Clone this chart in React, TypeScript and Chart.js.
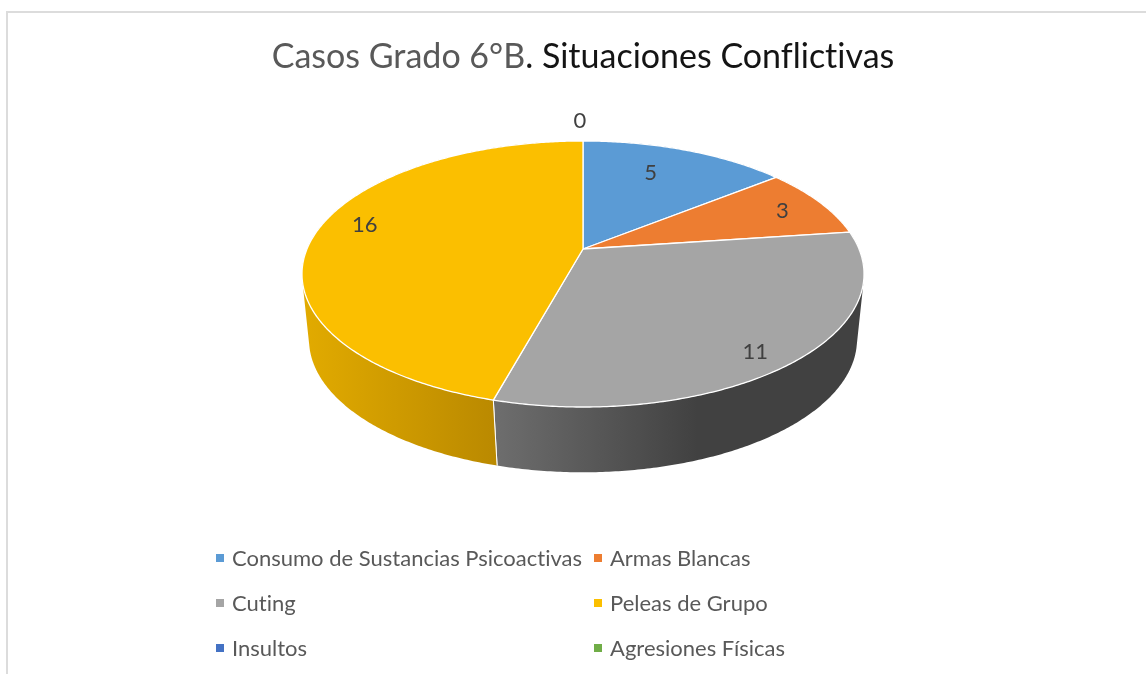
import React, { useEffect, useRef } from "react";
import { Chart, registerables } from "chart.js";

Chart.register(...registerables);

const categories = [
  "Consumo de Sustancias Psicoactivas",
  "Armas Blancas",
  "Cuting",
  "Peleas de Grupo",
  "Insultos",
  "Agresiones Físicas",
];
const casos: (number | null)[] = [5, 3, 11, 16, 0, null];
const topColors = ["#5B9BD5", "#ED7D31", "#A5A5A5", "#FBBF00", "#4472C4", "#70AD47"];
const titleParts = ["Casos Grado 6°B", ". Situaciones Conflictivas"];
const titleColors = ["#595959", "#141414"];

const FONT = "Lato";
const CX = 583;
const TOP = { cy: 249, b: 81.5, k: -0.188, a: 276 };
const BOT = { cy: 317, b: 75, k: -0.17, a: 270 };
const sideStops: [number, string][][] = [
  [[0, "#3f6e98"], [1, "#3f6e98"]],
  [[0, "#a85822"], [1, "#a85822"]],
  [[0, "#6e6e6e"], [0.55, "#414141"], [1, "#414141"]],
  [[0, "#e2ab00"], [1, "#a87a00"]],
  [[0, "#2f5189"], [1, "#2f5189"]],
  [[0, "#4f7a32"], [1, "#4f7a32"]],
];
const labelRadius = [0.75, 0.75, 0.75, 0.75, 1];
const labelNudge = [[-12, 1], [19, -2], [20, 22], [-17, -11], [-3, -20]];

type Disc = typeof TOP;
type Pt = [number, number];
const project = (g: Disc, angle: number, r = 1): Pt => {
  const X = r * Math.cos(angle);
  const Y = r * Math.sin(angle);
  const w = 1 + g.k * Y;
  return [CX + (g.a * X) / w, (g.cy + g.b * Y) / w];
};

const arcPoints = (g: Disc, a0: number, a1: number) => {
  const n = Math.max(2, Math.ceil(Math.abs(a1 - a0) / 0.01));
  const pts: Pt[] = [];
  for (let i = 0; i <= n; i++) pts.push(project(g, a0 + ((a1 - a0) * i) / n));
  return pts;
};

const area = (q: Pt[]) =>
  q.reduce((s, p, i) => {
    const n = q[(i + 1) % q.length];
    return s + p[0] * n[1] - n[0] * p[1];
  }, 0);

const tiltedPie = {
  id: "tiltedPie",
  beforeDraw(chart: any) {
    const c = chart.ctx;
    c.save();
    c.strokeStyle = "#DCDCDC";
    c.lineWidth = 2;
    c.beginPath();
    c.moveTo(7, 674);
    c.lineTo(7, 12);
    c.lineTo(1146, 12);
    c.stroke();
    c.restore();
  },
  beforeDatasetsDraw(chart: any) {
    const c = chart.ctx;
    const arcs = chart.getDatasetMeta(0).data;
    c.save();
    arcs.forEach((arc: any, i: number) => {
      if (arc.endAngle - arc.startAngle <= 0) return;
      const t = arcPoints(TOP, arc.startAngle, arc.endAngle);
      const b = arcPoints(BOT, arc.startAngle, arc.endAngle);
      const xs = [...t, ...b].map((p) => p[0]);
      const grad = c.createLinearGradient(Math.min(...xs), 0, Math.max(...xs), 0);
      sideStops[i].forEach(([s, col]) => grad.addColorStop(s, col));
      c.beginPath();
      for (let k = 0; k < t.length - 1; k++) {
        let q: Pt[] = [t[k], t[k + 1], b[k + 1], b[k]];
        if (area(q) < 0) q = q.reverse();
        q.forEach((p, j) => (j ? c.lineTo(p[0], p[1]) : c.moveTo(p[0], p[1])));
        c.closePath();
      }
      c.fillStyle = grad;
      c.fill();
      c.strokeStyle = "#FFFFFF";
      c.lineWidth = 1;
      c.beginPath();
      c.moveTo(t[0][0], t[0][1]);
      c.lineTo(b[0][0], b[0][1]);
      c.moveTo(t[t.length - 1][0], t[t.length - 1][1]);
      c.lineTo(b[b.length - 1][0], b[b.length - 1][1]);
      c.stroke();
    });
    arcs.forEach((arc: any, i: number) => {
      if (arc.endAngle - arc.startAngle <= 0) return;
      const pts = arcPoints(TOP, arc.startAngle, arc.endAngle);
      const o = project(TOP, 0, 0);
      c.beginPath();
      c.moveTo(o[0], o[1]);
      pts.forEach((p) => c.lineTo(p[0], p[1]));
      c.closePath();
      c.fillStyle = topColors[i];
      c.fill();
      c.strokeStyle = "#FFFFFF";
      c.lineWidth = 1.3;
      c.lineJoin = "round";
      c.stroke();
    });
    c.restore();
    return false;
  },
  afterDraw(chart: any) {
    const c = chart.ctx;
    const arcs = chart.getDatasetMeta(0).data;
    c.save();
    c.letterSpacing = "0.001px";
    // value labels
    c.font = `22px ${FONT}`;
    c.fillStyle = "#404040";
    c.textAlign = "center";
    c.textBaseline = "middle";
    casos.forEach((v, i) => {
      if (v === null) return;
      const mid = (arcs[i].startAngle + arcs[i].endAngle) / 2;
      const p = project(TOP, mid, labelRadius[i]);
      c.fillText(String(v), p[0] + labelNudge[i][0], p[1] + labelNudge[i][1]);
    });
    // title
    c.font = `34px ${FONT}`;
    c.textAlign = "left";
    const w0 = c.measureText(titleParts[0]).width;
    const w1 = c.measureText(titleParts[1]).width;
    let x = CX - (w0 + w1) / 2;
    c.fillStyle = titleColors[0];
    c.fillText(titleParts[0], x, 57);
    x += w0;
    c.fillStyle = titleColors[1];
    c.fillText(titleParts[1], x, 57);
    // legend
    c.font = `22px ${FONT}`;
    categories.forEach((name, i) => {
      const col = i % 2;
      const row = Math.floor(i / 2);
      const mx = col ? 594 : 216;
      const ty = 558 + row * 45;
      c.fillStyle = topColors[i];
      c.fillRect(mx, ty - 4, 8, 8);
      c.fillStyle = "#595959";
      c.fillText(name, mx + 16, ty + 1);
    });
    c.restore();
  },
};

export default function App() {
  const ref = useRef<HTMLCanvasElement>(null);
  useEffect(() => {
    const chart = new Chart(ref.current!, {
      type: "pie",
      data: {
        labels: categories,
        datasets: [{ data: casos as number[], backgroundColor: topColors }],
      },
      options: {
        animation: false,
        responsive: false,
        plugins: { legend: { display: false }, tooltip: { enabled: false } },
      },
      plugins: [tiltedPie],
    });
    return () => chart.destroy();
  }, []);
  return (
    <div style={{ position: "fixed", left: 0, top: 0, width: 1146, height: 674, background: "#fff" }}>
      <canvas ref={ref} width={1146} height={674} style={{ display: "block" }} />
    </div>
  );
}
